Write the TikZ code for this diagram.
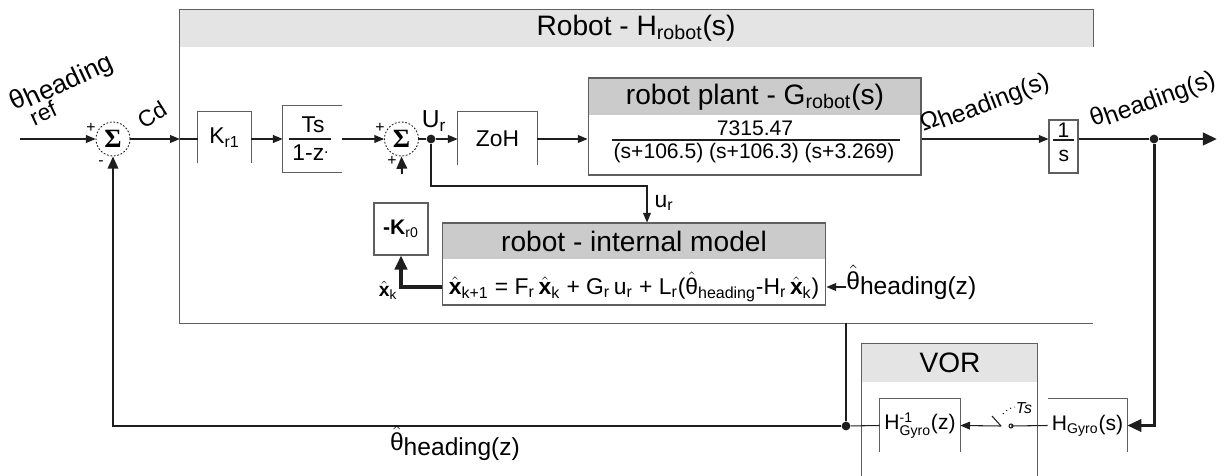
\documentclass[tikz,border=0pt]{standalone}
\usepackage{amsmath}
\usepackage{fontspec}
\setmainfont{Liberation Sans}
\newfontfamily\sigfont{Liberation Serif}
\usetikzlibrary{arrows.meta,positioning,calc}
\definecolor{hdrlight}{RGB}{228,228,228}
\definecolor{hdrdark}{RGB}{203,203,203}
\definecolor{edge}{RGB}{95,95,95}
\definecolor{ink}{RGB}{30,30,30}
\newcommand{\xh}{$\hat{\text{\textbf{x}}}$}
\newcommand{\thh}{$\hat{\text{θ}}$}
\newcommand{\fs}[1]{\fontsize{#1}{#1}\selectfont}

\begin{document}
\begin{tikzpicture}[x=0.02cm,y=-0.02cm,
    line/.style={draw=ink, line width=0.6pt},
    arr/.style={line, -{Triangle[length=5.5pt,width=4.5pt]}},
    thk/.style={draw=ink, line width=1.7pt},
    tharr/.style={thk, -{Triangle[length=8pt,width=7pt]}},
    fbk/.style={draw=ink, line width=1.1pt, -{Triangle[length=7pt,width=6pt]}},
    blk/.style={draw=edge, line width=0.6pt},
    obox/.style={inner sep=0pt},
    hdbox/.style 2 args={obox, draw=edge, line width=0.6pt, fill=white,
        path picture={\fill[#1] (path picture bounding box.north west) rectangle ([yshift=-#2]path picture bounding box.north east);}},
    sumc/.style={circle, draw=ink, line width=0.5pt, dash pattern=on 1pt off 1pt, minimum size=0.68cm, inner sep=0pt, font=\fs{15}\sigfont\bfseries},
    dot/.style={circle, fill=ink, inner sep=0pt, minimum size=5pt},
    big/.style={font=\fs{16}},
    mid/.style={font=\fs{13}},
    sml/.style={font=\fs{11}},
    sgn/.style={font=\fs{9}, inner sep=0pt}]
  \useasboundingbox (0,0) rectangle (1224,476);
  \coordinate (main) at (0,139);
  \coordinate (eq) at (0,287);

  % robot frame
  \node[obox, minimum width=18.26cm, minimum height=6.26cm] (robot) at (636.5,166.5) {};
  \fill[hdrlight] (robot.north west) rectangle ($(robot.north east)+(0,37)$);
  \draw[blk] ($(robot.north east)+(0,37)$) -- (robot.north east) -- (robot.north west) -- (robot.south west) -- (robot.south east);
  \node[big] at (636,28) {Robot - H\textsubscript{robot}(s)};

  % blocks
  \node[sumc] (sum1) at (113,139) {Σ};
  \node[obox, minimum width=1.06cm, minimum height=1.02cm, mid] (kr1) at (224.5,137.5) {K\textsubscript{r1}};
  \node[obox, minimum width=1.18cm, minimum height=1.32cm] (ts) at (312.5,139) {};
  \node[sumc] (sum2) at (401.5,139) {Σ};
  \node[dot] (ur) at (431,139) {};
  \node[obox, minimum width=1.58cm, minimum height=1.06cm, mid] (zoh) at (497.5,138.5) {ZoH};
  \node[hdbox={hdrdark}{0.74cm}, minimum width=6.66cm, minimum height=1.94cm] (plant) at (754.5,126.5) {};
  \node[blk, obox, minimum width=0.58cm, minimum height=1.06cm] (ones) at (1063.5,146.5) {};
  \node[dot] (out) at (1154,139) {};
  \coordinate (end) at (1217,139);
  \node[hdbox={hdrdark}{0.72cm}, minimum width=7.68cm, minimum height=1.64cm] (model) at (634,264) {};
  \node[blk, obox, minimum width=1.08cm, minimum height=1.04cm] (kr0) at (401,229) {\fs{12}\textbf{-K}\textsubscript{r0}};
  \node[obox, minimum width=3.5cm, minimum height=2.72cm] (vor) at (949.5,412) {};
  \node[obox, minimum width=1.6cm, minimum height=1.06cm, font=\fs{12}] (hinv) at (920,425.5) {H$^{\text{-1}}_{\text{Gyro}}$(z)};
  \node[obox, minimum width=1.58cm, minimum height=1.06cm, font=\fs{12}] (hgyro) at (1087.5,425.5) {H\textsubscript{Gyro}(s)};
  \node[dot] (fb) at (846,426) {};
  \coordinate (in) at (20,139);
  \coordinate (tap) at (647,186);
  \coordinate (stub) at (402,174);
  \coordinate (smpin) at (1011,426);
  \coordinate (smpout) at (1001,426);

  % open sided boxes
  \draw[blk] (kr1.south west) -- (kr1.north west) -- (kr1.north east) -- (kr1.south east);
  \draw[blk] (ts.north east) -- (ts.north west) -- (ts.south west) -- (ts.south east);
  \draw[blk] (zoh.south west) -- (zoh.north west) -- (zoh.north east) -- (zoh.south east);
  \draw[blk] (hinv.south west) -- (hinv.north west) -- (hinv.north east) -- (hinv.south east);
  \draw[blk] (hgyro.north west) -- (hgyro.north east) -- (hgyro.south east);
  \fill[hdrlight] (vor.north west) rectangle ($(vor.north east)+(0,38)$);
  \draw[blk] (vor.south west) -- (vor.north west) -- (vor.north east) -- (vor.south east);
  \node[big] at (950,363) {VOR};

  % block contents
  \node[mid] at (313,125) {Ts};
  \draw[line] (289,139) -- (331,139);
  \node[mid] at (311,153) {1-z\textsuperscript{.}};
  \node[big] at (755,97) {robot plant - G\textsubscript{robot}(s)};
  \node[font=\fs{12}] at (755,128) {7315.47};
  \draw[line] (612,140) -- (900,140);
  \node[font=\fs{12}] at (754,153) {(s+106.5) (s+106.3) (s+3.269)};
  \node[font=\fs{12}] at (1063.5,130) {1};
  \draw[line] (1053,140) -- (1074,140);
  \node[font=\fs{12}] at (1064,156) {s};
  \node[big] at (634,241) {robot - internal model};
  \node[font=\fs{13}] at (634,287) {\xh\textsubscript{k+1} = F\textsubscript{r}\,\xh\textsubscript{k} + G\textsubscript{r}\,u\textsubscript{r} + L\textsubscript{r}(\thh\textsubscript{heading}-H\textsubscript{r}\,\xh\textsubscript{k})};

  % connectors
  \draw[arr] (in) -- (sum1);
  \draw[arr] (sum1) -- (robot.west |- main);
  \draw[line] (robot.west |- main) -- (kr1.west |- main);
  \draw[arr] (kr1.east |- main) -- (ts.west |- main);
  \draw[arr] (ts.east |- main) -- (sum2);
  \draw[line] (sum2) -- (ur);
  \draw[arr] (ur) -- (zoh.west |- main);
  \draw[arr] (zoh.east |- main) -- (plant.west |- main);
  \draw[arr] (plant.east |- main) -- (ones.west |- main);
  \draw[thk] (ones.east |- main) -- (out);
  \draw[tharr] (out) -- (end);
  \draw[tharr] (out) |- (hgyro.east);
  \draw[line] (hgyro.west) -- (smpin);
  \draw[line] (smpin) circle (2);
  \draw[line] (smpout) -- ++(-9,-10);
  \draw[line, dotted] (1003,414) to[bend left=20] (1015,407);
  \node[font=\fs{9}\itshape] at (1024,408) {Ts};
  \draw[arr] (smpout) -- (hinv.east);
  \draw[line] (hinv.west) -- (fb);
  \draw[fbk] (fb) -| (sum1.south);
  \draw[line] (fb) -- (fb |- robot.south);
  \draw[arr] (ur) |- (tap) -- (tap |- model.north);
  \draw[tharr, line width=2pt] (model.west |- eq) -| (kr0.south);
  \draw[fbk] (stub) -- (sum2.south);

  % labels
  \node[sgn] at (91,128) {+};
  \node[sgn] at (101,163) {-};
  \node[sgn] at (380,128) {+};
  \node[sgn] at (392,161) {+};
  \node[font=\fs{15}, rotate=25] at (62,83) {θ\raisebox{-0.3ex}{heading}};
  \node[font=\fs{13}, rotate=25] at (43,113) {ref};
  \node[mid, rotate=32] at (152,115) {Cd};
  \node[font=\fs{14}] at (434,121) {U\textsubscript{r}};
  \node[mid] at (664,203) {u\textsubscript{r}};
  \node[font=\fs{14}, rotate=21] at (985,104) {Ω\raisebox{-0.3ex}{heading(s)}};
  \node[font=\fs{14}, rotate=20] at (1153,100) {θ\raisebox{-0.3ex}{heading(s)}};
  \node[font=\fs{11}] at (388,290) {\xh\textsubscript{k}};
  \node[font=\fs{14}, anchor=west, inner sep=0pt] (thin) at (846,282) {\thh\raisebox{-0.4ex}{heading(z)}};
  \draw[arr] (thin.west |- eq) -- (model.east |- eq);
  \node[font=\fs{14}] (thb) at (455,443) {\thh\raisebox{-0.4ex}{heading(z)}};
\end{tikzpicture}
\end{document}
